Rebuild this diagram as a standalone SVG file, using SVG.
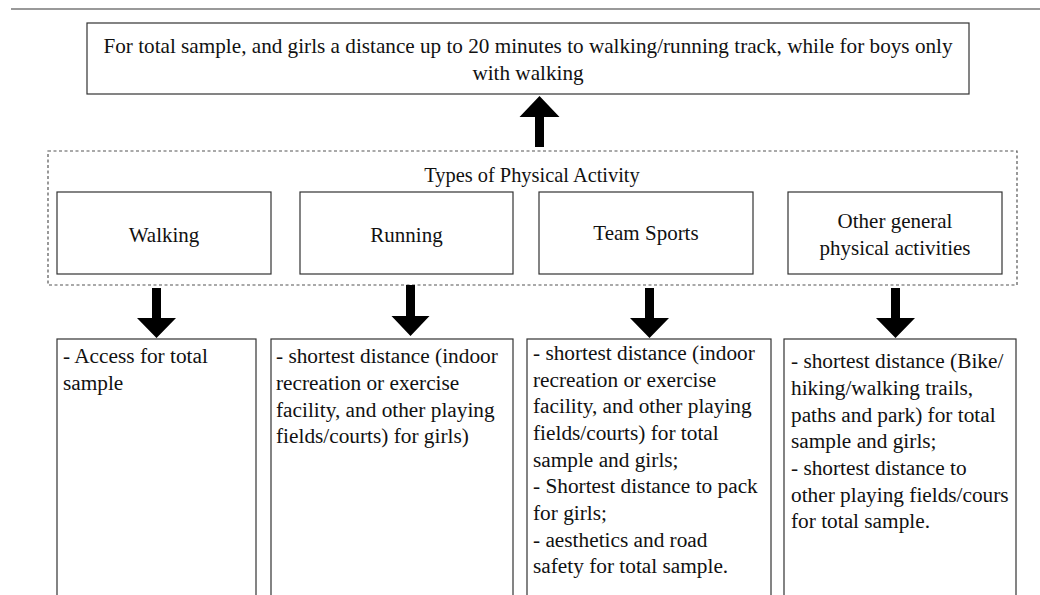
<svg xmlns="http://www.w3.org/2000/svg" width="1040" height="595" viewBox="0 0 1040 595">
<style>
.box{fill:#fff;stroke:#333;stroke-width:1.2}
.dash{fill:none;stroke:#555;stroke-width:1.2;stroke-dasharray:3 2.5}
.t{font-family:'Liberation Serif','Times New Roman',serif;font-size:21px;fill:#111}
.top{font-size:21.2px}
.d{font-size:21.3px}
.c{text-anchor:middle}
.arr{fill:#000}
</style>
<rect width="1040" height="595" fill="#fff"/>
<line x1="11" y1="9" x2="1040" y2="9" stroke="#777" stroke-width="1.5"/>
<g id="outcome">
<rect class="box" x="87" y="23" width="882" height="71"/>
<text class="t top c" x="528" y="53">For total sample, and girls a distance up to 20 minutes to walking/running track, while for boys only</text>
<text class="t top c" x="528" y="80">with walking</text>
</g>
<g id="types">
<rect class="dash" x="48" y="151" width="969" height="134"/>
<text class="t c" x="532" y="182" style="font-size:20.4px">Types of Physical Activity</text>
</g>
<g id="walking">
<rect class="box" x="57" y="192" width="214" height="82"/>
<text class="t c" x="164" y="242">Walking</text>
</g>
<g id="running">
<rect class="box" x="300" y="192" width="213" height="82"/>
<text class="t c" x="406.5" y="242">Running</text>
</g>
<g id="team">
<rect class="box" x="539" y="192" width="214" height="82"/>
<text class="t c" x="646" y="240">Team Sports</text>
</g>
<g id="other">
<rect class="box" x="788" y="192" width="214" height="82"/>
<text class="t c" x="895" y="228">Other general</text>
<text class="t c" x="895" y="255">physical activities</text>
</g>
<g id="walking-detail">
<rect class="box" x="57" y="339" width="199" height="270"/>
<text class="t d" x="63" y="363">- Access for total</text>
<text class="t d" x="63" y="390">sample</text>
</g>
<g id="running-detail">
<rect class="box" x="271" y="339" width="242" height="270"/>
<text class="t d" x="276" y="363">- shortest distance (indoor</text>
<text class="t d" x="276" y="390">recreation or exercise</text>
<text class="t d" x="276" y="417">facility, and other playing</text>
<text class="t d" x="276" y="443">fields/courts) for girls)</text>
</g>
<g id="team-detail">
<rect class="box" x="527" y="339" width="244" height="270"/>
<text class="t d" x="533" y="360">- shortest distance (indoor</text>
<text class="t d" x="533" y="387">recreation or exercise</text>
<text class="t d" x="533" y="413">facility, and other playing</text>
<text class="t d" x="533" y="440">fields/courts) for total</text>
<text class="t d" x="533" y="467">sample and girls;</text>
<text class="t d" x="533" y="493">- Shortest distance to pack</text>
<text class="t d" x="533" y="520">for girls;</text>
<text class="t d" x="533" y="547">- aesthetics and road</text>
<text class="t d" x="533" y="573">safety for total sample.</text>
</g>
<g id="other-detail">
<rect class="box" x="784" y="339" width="232" height="270"/>
<text class="t d" x="791" y="368">- shortest distance (Bike/</text>
<text class="t d" x="791" y="395">hiking/walking trails,</text>
<text class="t d" x="791" y="422">paths and park) for total</text>
<text class="t d" x="791" y="448">sample and girls;</text>
<text class="t d" x="791" y="475">- shortest distance to</text>
<text class="t d" x="791" y="502">other playing fields/cours</text>
<text class="t d" x="791" y="528">for total sample.</text>
</g>
<g id="connectors">
<polygon class="arr" points="535,147 544,147 544,117 559.5,117 539.5,96 519.5,117 535,117"/>
<polygon class="arr" points="152,288 161,288 161,318 176,318 156.5,338 137,318 152,318"/>
<polygon class="arr" points="406,285 415,285 415,316 429.5,316 410.5,336 391.5,316 406,316"/>
<polygon class="arr" points="645,288 654,288 654,318 669,318 649.5,338 630,318 645,318"/>
<polygon class="arr" points="891,288 900,288 900,318 915,318 895.5,338 876,318 891,318"/>
</g>
</svg>
